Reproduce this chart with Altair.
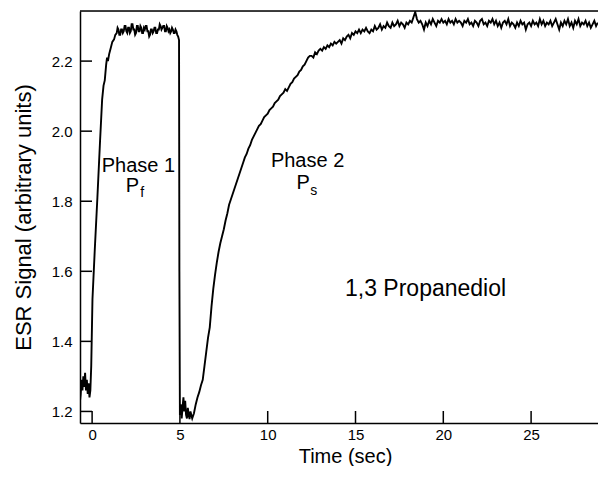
import altair as alt
import pandas as pd

FONT = "Liberation Sans"

# ---- trace (time in sec, ESR signal) ----
pre_t = [-0.69, -0.65, -0.6, -0.55, -0.5, -0.45, -0.4, -0.35, -0.3, -0.25, -0.2, -0.15, -0.1]
pre_v = [1.23, 1.25, 1.29, 1.26, 1.30, 1.27, 1.31, 1.26, 1.29, 1.25, 1.28, 1.24, 1.26]

rise1_t = [-0.05, 0.02, 0.15, 0.3, 0.45, 0.57, 0.65, 0.72, 0.8, 0.85, 0.9, 0.97, 1.05, 1.15, 1.25, 1.32]
rise1_v = [1.33, 1.52, 1.66, 1.81, 1.97, 2.09, 2.13, 2.145, 2.19, 2.21, 2.20, 2.22, 2.235, 2.255, 2.262, 2.275]

plat1_start, plat1_step = 1.4, 0.05
plat1_v = [2.28, 2.295, 2.29, 2.275, 2.275, 2.29, 2.29, 2.28, 2.285, 2.30,
           2.30, 2.285, 2.28, 2.295, 2.295, 2.28, 2.285, 2.305, 2.305, 2.29,
           2.29, 2.275, 2.28, 2.30, 2.30, 2.285, 2.285, 2.30, 2.295, 2.28,
           2.28, 2.295, 2.29, 2.30, 2.30, 2.285, 2.285, 2.27, 2.275, 2.29,
           2.29, 2.28, 2.285, 2.295, 2.295, 2.28, 2.28, 2.29, 2.29, 2.305,
           2.30, 2.29, 2.295, 2.30, 2.30, 2.285, 2.285, 2.30, 2.295, 2.285,
           2.29, 2.28, 2.285, 2.295, 2.29, 2.28, 2.28, 2.29, 2.285, 2.275]

drop_t = [4.9, 4.95, 4.97, 5.0, 5.05, 5.1, 5.15, 5.2, 5.25, 5.3, 5.35, 5.4, 5.45, 5.5, 5.55, 5.6, 5.7, 5.8]
drop_v = [2.27, 2.26, 1.60, 1.19, 1.22, 1.18, 1.21, 1.24, 1.20, 1.23, 1.19, 1.18, 1.21, 1.19, 1.178, 1.20, 1.18, 1.195]

rise2_start, rise2_step = 5.9, 0.1
rise2_v = [1.22, 1.24, 1.255, 1.275, 1.29, 1.33, 1.37, 1.41, 1.44, 1.50,
           1.55, 1.59, 1.625, 1.655, 1.68, 1.70, 1.72, 1.745, 1.765, 1.79,
           1.805, 1.82, 1.835, 1.85, 1.865, 1.88, 1.895, 1.91, 1.925, 1.935,
           1.95, 1.96, 1.975, 1.985, 1.995, 2.005, 2.015, 2.02, 2.03, 2.04,
           2.045, 2.05, 2.06, 2.065, 2.07, 2.08, 2.085, 2.09, 2.10, 2.105,
           2.11, 2.12, 2.115, 2.125, 2.135, 2.14, 2.15, 2.155, 2.16, 2.17,
           2.175, 2.185, 2.19, 2.20, 2.21, 2.215, 2.215, 2.21, 2.225, 2.22,
           2.23, 2.235, 2.23, 2.24, 2.235, 2.245, 2.24, 2.25, 2.245, 2.255,
           2.25, 2.255, 2.26, 2.25, 2.265, 2.26, 2.27, 2.275, 2.265, 2.28,
           2.275, 2.285, 2.28, 2.29, 2.28, 2.29, 2.285, 2.295, 2.285, 2.28,
           2.29, 2.285, 2.30, 2.29, 2.295, 2.305, 2.29, 2.30, 2.295, 2.31,
           2.30, 2.295, 2.31, 2.30, 2.305, 2.315, 2.30, 2.31, 2.305, 2.295,
           2.31, 2.305, 2.315, 2.31, 2.325, 2.34, 2.32, 2.31, 2.315, 2.305,
           2.29, 2.31, 2.30, 2.315, 2.305, 2.32, 2.31, 2.30, 2.315, 2.31,
           2.32, 2.31, 2.315, 2.305, 2.32, 2.31, 2.315, 2.305, 2.32, 2.31,
           2.315, 2.31, 2.30, 2.315, 2.31, 2.32, 2.305, 2.31, 2.30, 2.315,
           2.31, 2.30, 2.315, 2.32, 2.305, 2.31, 2.30, 2.315, 2.31, 2.32,
           2.305, 2.315, 2.30, 2.31, 2.295, 2.31, 2.315, 2.305, 2.32, 2.30,
           2.31, 2.305, 2.295, 2.31, 2.30, 2.315, 2.305, 2.31, 2.29, 2.305,
           2.31, 2.30, 2.315, 2.305, 2.31, 2.30, 2.32, 2.305, 2.315, 2.30,
           2.31, 2.305, 2.315, 2.30, 2.31, 2.32, 2.305, 2.29, 2.31, 2.30,
           2.315, 2.305, 2.32, 2.30, 2.31, 2.295, 2.315, 2.305, 2.32, 2.30,
           2.31, 2.305, 2.315, 2.30, 2.31, 2.295, 2.305, 2.315, 2.30, 2.31]

x_ticks = [0, 5, 10, 15, 20, 25]
y_ticks = [1.2, 1.4, 1.6, 1.8, 2.0, 2.2]
x_domain = [-0.69, 28.81]
y_domain = [1.167, 2.343]

labels = ["Phase 1", "P", "Phase 2", "P", "1,3 Propanediol"]
label_t = [2.64, 2.30, 12.27, 12.02, 18.99]
label_v = [1.902, 1.843, 1.916, 1.851, 1.549]
label_size = [20, 20, 20, 20, 23]
subs = ["f", "s"]
sub_t = [2.85, 12.62]
sub_v = [1.824, 1.830]

# ---- assemble ----
plat1_t = [round(plat1_start + i * plat1_step, 3) for i in range(len(plat1_v))]
rise2_t = [round(rise2_start + i * rise2_step, 3) for i in range(len(rise2_v))]
t_all = pre_t + rise1_t + plat1_t + drop_t + rise2_t
v_all = pre_v + rise1_v + plat1_v + drop_v + rise2_v
trace = pd.DataFrame({"t": t_all, "v": v_all, "i": range(len(t_all))})

xs = alt.Scale(domain=x_domain, nice=False, zero=False)
ys = alt.Scale(domain=y_domain, nice=False, zero=False)

W, H = 518, 412

line = alt.Chart(trace).mark_line(color="black", strokeWidth=1.9, clip=True).encode(
    x=alt.X("t:Q", scale=xs, title="Time (sec)",
            axis=alt.Axis(values=x_ticks, ticks=False, grid=False, labelPadding=4,
                          labelFontSize=15, titleFontSize=20, titlePadding=4, titleX=265,
                          domainColor="black", domainWidth=1.5, labelColor="black",
                          titleColor="black", titleFontWeight="normal", labelFont=FONT, titleFont=FONT)),
    y=alt.Y("v:Q", scale=ys, title="ESR Signal (arbitrary units)",
            axis=alt.Axis(values=y_ticks, format=".1f", ticks=False, grid=False, labelPadding=8,
                          labelFontSize=15, titleFontSize=22, titlePadding=16,
                          domainColor="black", domainWidth=1.5, labelColor="black",
                          titleColor="black", titleFontWeight="normal", labelFont=FONT, titleFont=FONT)),
    order="i:Q",
)

ytick_df = pd.DataFrame({"v": y_ticks})
yt = alt.Chart(ytick_df).mark_rule(color="black", strokeWidth=1.5).encode(
    y=alt.Y("v:Q", scale=ys), x=alt.value(0), x2=alt.value(12))

xtick_df = pd.DataFrame({"t": x_ticks})
xt = alt.Chart(xtick_df).mark_rule(color="black", strokeWidth=1.5).encode(
    x=alt.X("t:Q", scale=xs), y=alt.value(H), y2=alt.value(H - 12))

top_df = pd.DataFrame({"t": [x_domain[0]], "t2": [x_domain[1]]})
top = alt.Chart(top_df).mark_rule(color="black", strokeWidth=1.5).encode(
    x=alt.X("t:Q", scale=xs), x2="t2:Q", y=alt.value(0))

lab_df = pd.DataFrame({"text": labels, "t": label_t, "v": label_v, "size": label_size})
lab = alt.Chart(lab_df).mark_text(font=FONT, color="black", align="center", baseline="middle").encode(
    x=alt.X("t:Q", scale=xs), y=alt.Y("v:Q", scale=ys), text="text:N",
    size=alt.Size("size:Q", scale=None, legend=None))

sub_df = pd.DataFrame({"text": subs, "t": sub_t, "v": sub_v})
sub = alt.Chart(sub_df).mark_text(font=FONT, color="black", fontSize=14, align="center", baseline="middle").encode(
    x=alt.X("t:Q", scale=xs), y=alt.Y("v:Q", scale=ys), text="text:N")

chart = alt.layer(line, yt, xt, top, lab, sub).properties(
    width=W, height=H,
    autosize=alt.AutoSizeParams(type="none"),
    padding={"left": 72, "top": 3, "right": 0, "bottom": 43},
).configure_view(stroke=None).configure(background="white")

chart.save("out.html", embed_options={"renderer": "svg", "actions": False})
